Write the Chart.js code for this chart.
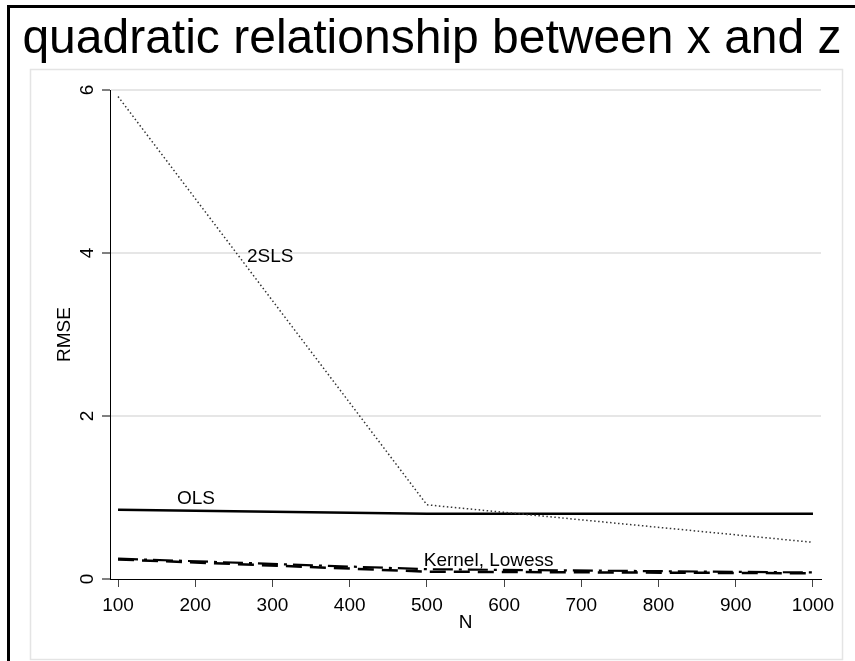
<!DOCTYPE html>
<html>
<head>
<meta charset="utf-8">
<script src="https://cdn.jsdelivr.net/npm/chart.js@4/dist/chart.umd.min.js"></script>
<style>
  body { margin: 0; background: #fff; }
  #cadre { position: absolute; left: 7px; top: 5px; width: 848px; height: 656px;
           border-top: 3px solid #000; border-left: 3px solid #000; }
  #graphique { position: absolute; left: 0; top: 0; }
</style>
</head>
<body>
<div id="cadre"></div>
<canvas id="graphique" width="855" height="661"></canvas>
<script>
// Données
const titre = "quadratic relationship between x and z";
const tailles = [100, 500, 1000];
const rmse2sls = [5.92, 0.91, 0.45];
const rmseOls = [0.85, 0.80, 0.80];
const rmseKernel = [0.24, 0.09, 0.07];
const rmseLowess = [0.25, 0.12, 0.08];
const ticksX = [100, 200, 300, 400, 500, 600, 700, 800, 900, 1000];
const ticksY = [0, 2, 4, 6];
// Étiquettes posées sur les courbes (en coordonnées des données)
const etiquettes = [
  { texte: "2SLS", n: 297, rmse: 3.95 },
  { texte: "OLS", n: 201, rmse: 0.98 },
  { texte: "Kernel, Lowess", n: 580, rmse: 0.22 },
];

const police = "'Liberation Sans', Arial, sans-serif";

function points(valeurs) {
  return tailles.map((n, i) => ({ x: n, y: valeurs[i] }));
}

// Cadre gris clair de la zone du graphique et titre
const fondPlugin = {
  id: "fond",
  beforeDraw(chart) {
    const ctx = chart.ctx;
    ctx.save();
    ctx.strokeStyle = "#e4e4e4";
    ctx.lineWidth = 1.5;
    ctx.strokeRect(30.5, 69.5, 812, 590);
    ctx.font = "48px " + police;
    ctx.fillStyle = "#000";
    ctx.textAlign = "center";
    ctx.textBaseline = "alphabetic";
    ctx.fillText(titre, 432, 53);
    ctx.restore();
  },
};

// Étiquettes des séries
const etiquettesPlugin = {
  id: "etiquettes",
  afterDatasetsDraw(chart) {
    const ctx = chart.ctx;
    const sx = chart.scales.x;
    const sy = chart.scales.y;
    ctx.save();
    ctx.font = "19px " + police;
    ctx.fillStyle = "#000";
    ctx.textAlign = "center";
    ctx.textBaseline = "middle";
    for (const e of etiquettes) {
      ctx.fillText(e.texte, sx.getPixelForValue(e.n), sy.getPixelForValue(e.rmse));
    }
    ctx.restore();
  },
};

const config = {
  type: "line",
  data: {
    datasets: [
      {
        label: "2SLS",
        data: points(rmse2sls),
        borderColor: "#333",
        borderWidth: 1.5,
        borderDash: [1.5, 2.5],
        pointRadius: 0,
      },
      {
        label: "OLS",
        data: points(rmseOls),
        borderColor: "#000",
        borderWidth: 2.5,
        pointRadius: 0,
      },
      {
        label: "Kernel",
        data: points(rmseKernel),
        borderColor: "#000",
        borderWidth: 2.5,
        borderDash: [16, 8],
        pointRadius: 0,
      },
      {
        label: "Lowess",
        data: points(rmseLowess),
        borderColor: "#000",
        borderWidth: 2.2,
        borderDash: [20, 6, 3, 6],
        pointRadius: 0,
      },
    ],
  },
  options: {
    responsive: false,
    animation: false,
    layout: { padding: { left: 0, right: 34, top: 90, bottom: 0 } },
    plugins: {
      legend: { display: false },
      tooltip: { enabled: false },
      title: { display: false },
    },
    scales: {
      x: {
        type: "linear",
        min: 89.6,
        max: 1010.4,
        afterBuildTicks: (s) => { s.ticks = ticksX.map((v) => ({ value: v })); },
        afterFit: (s) => { s.height = 82; },
        grid: { drawOnChartArea: false, drawTicks: true, tickLength: 8, tickColor: "#444", tickWidth: 1 },
        border: { display: true, color: "#000", width: 1 },
        ticks: {
          color: "#000",
          font: { family: police, size: 19 },
          padding: 7,
          maxRotation: 0,
          callback: (v) => String(v),
        },
        title: {
          display: true,
          text: "N",
          color: "#000",
          font: { family: police, size: 19 },
          padding: { top: 0, bottom: 27 },
        },
      },
      y: {
        min: 0,
        max: 6,
        afterBuildTicks: (s) => { s.ticks = ticksY.map((v) => ({ value: v })); },
        afterFit: (s) => { s.width = 110; },
        grid: {
          color: (c) => (c.tick && c.tick.value === 0 ? "rgba(0,0,0,0)" : "#e6e6e6"),
          lineWidth: 2,
          drawTicks: true,
          tickLength: 8,
          tickColor: "#000",
          tickWidth: 1,
        },
        border: { display: true, color: "#000", width: 1 },
        ticks: {
          color: "#000",
          font: { family: police, size: 19 },
          minRotation: 90,
          maxRotation: 90,
          crossAlign: "center",
          padding: 9,
          callback: (v) => String(v),
        },
        title: {
          display: true,
          text: "RMSE",
          color: "#000",
          font: { family: police, size: 19 },
          padding: { top: 53, bottom: 0 },
        },
      },
    },
  },
  plugins: [fondPlugin, etiquettesPlugin],
};

new Chart(document.querySelector("#graphique"), config);
</script>
</body>
</html>
